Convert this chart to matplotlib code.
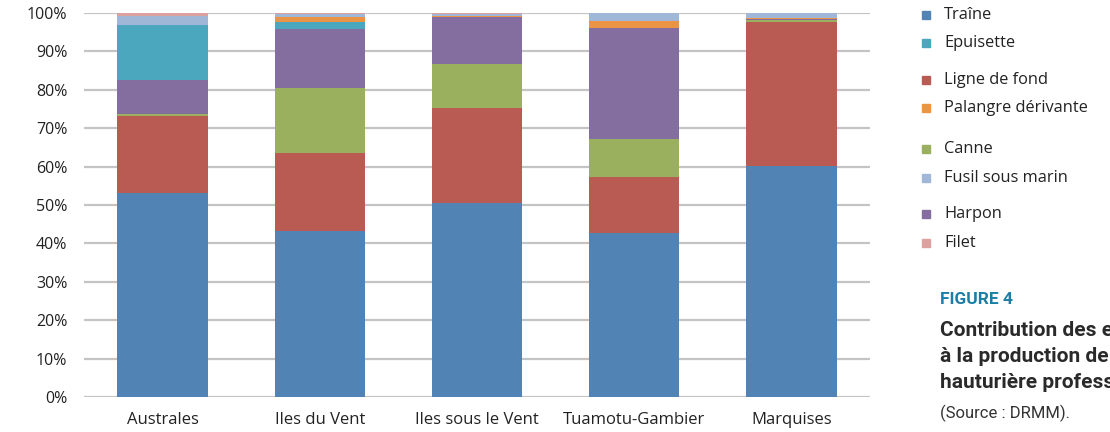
import numpy as np
import matplotlib
matplotlib.use("Agg")
import matplotlib.pyplot as plt
from matplotlib.patches import Rectangle

plt.rcParams["font.family"] = ["Open Sans", "DejaVu Sans"]

regions = ["Australes", "Iles du Vent", "Iles sous le Vent", "Tuamotu-Gambier", "Marquises"]

# percentages per region, bottom to top of each stack
traine = [53.0, 43.2, 50.6, 42.8, 60.2]
ligne_de_fond = [20.3, 20.4, 24.6, 14.6, 37.5]
canne = [0.5, 16.9, 11.6, 9.7, 0.5]
harpon = [8.8, 15.3, 12.1, 29.0, 0.3]
epuisette = [14.2, 1.9, 0.0, 0.0, 0.0]
palangre = [0.0, 1.2, 0.4, 1.9, 0.3]
fusil = [2.5, 0.9, 0.4, 1.9, 1.2]
filet = [0.7, 0.2, 0.3, 0.1, 0.0]

stack = [
    ("Traîne", traine, "#5283b5"),
    ("Ligne de fond", ligne_de_fond, "#b95b53"),
    ("Canne", canne, "#9bb05e"),
    ("Harpon", harpon, "#846d9f"),
    ("Epuisette", epuisette, "#4ba7be"),
    ("Palangre dérivante", palangre, "#ec9445"),
    ("Fusil sous marin", fusil, "#a0b7d8"),
    ("Filet", filet, "#dda19f"),
]

legend_order = ["Traîne", "Epuisette", "Ligne de fond", "Palangre dérivante",
                "Canne", "Fusil sous marin", "Harpon", "Filet"]
legend_y = [15, 43, 80, 108, 149, 178, 214, 243]  # pixel rows from the top

W, H = 1110, 432
fig = plt.figure(figsize=(W / 100, H / 100), dpi=100)
ax = fig.add_axes([84 / W, 1 - 397 / H, (870 - 84) / W, (397 - 13) / H])

x = np.arange(len(regions))
bottom = np.zeros(len(regions))
for name, vals, col in stack:
    vals = np.array(vals)
    ax.bar(x, vals, bottom=bottom, width=0.575, color=col, edgecolor="none", zorder=3)
    bottom += vals

ax.set_xlim(-0.5, len(regions) - 0.5)
ax.set_ylim(0, 100)
ax.set_yticks(np.arange(0, 101, 10))
ax.set_yticklabels([f"{v}%" for v in range(0, 101, 10)], fontsize=11.5, color="#222222")
ax.set_xticks(x)
ax.set_xticklabels(regions, fontsize=12, color="#222222")
ax.yaxis.grid(True, color="#c4c4c4", linewidth=1.6, zorder=0)
ax.tick_params(length=0, pad=12)
ax.tick_params(axis="x", pad=11)
for s in ax.spines.values():
    s.set_visible(False)

colors = {name: col for name, _, col in stack}
for name, yp in zip(legend_order, legend_y):
    fig.patches.append(Rectangle((922 / W, 1 - (yp + 4) / H), 8 / W, 8 / H,
                                 transform=fig.transFigure, color=colors[name]))
    fig.text(944 / W, 1 - yp / H, name, fontsize=11.8, va="center", color="#222222")

fig.text(940 / W, 1 - 300 / H, "FIGURE 4", fontsize=12.5, fontweight="bold",
         color="#1b7ea6", va="center", family=["Roboto", "DejaVu Sans"])
caption = ["Contribution des engins", "à la production de la pêche",
           "hauturière professionnelle"]
for i, line in enumerate(caption):
    fig.text(940 / W, 1 - (330 + i * 26.5) / H, line, fontsize=15, fontweight="bold",
             color="#2a2a2a", va="center", family=["Roboto", "DejaVu Sans"])
fig.text(940 / W, 1 - 413 / H, "(Source : DRMM).", fontsize=12, color="#333333",
         va="center", family=["Roboto", "DejaVu Sans"])

fig.savefig("out.png", dpi=100)
